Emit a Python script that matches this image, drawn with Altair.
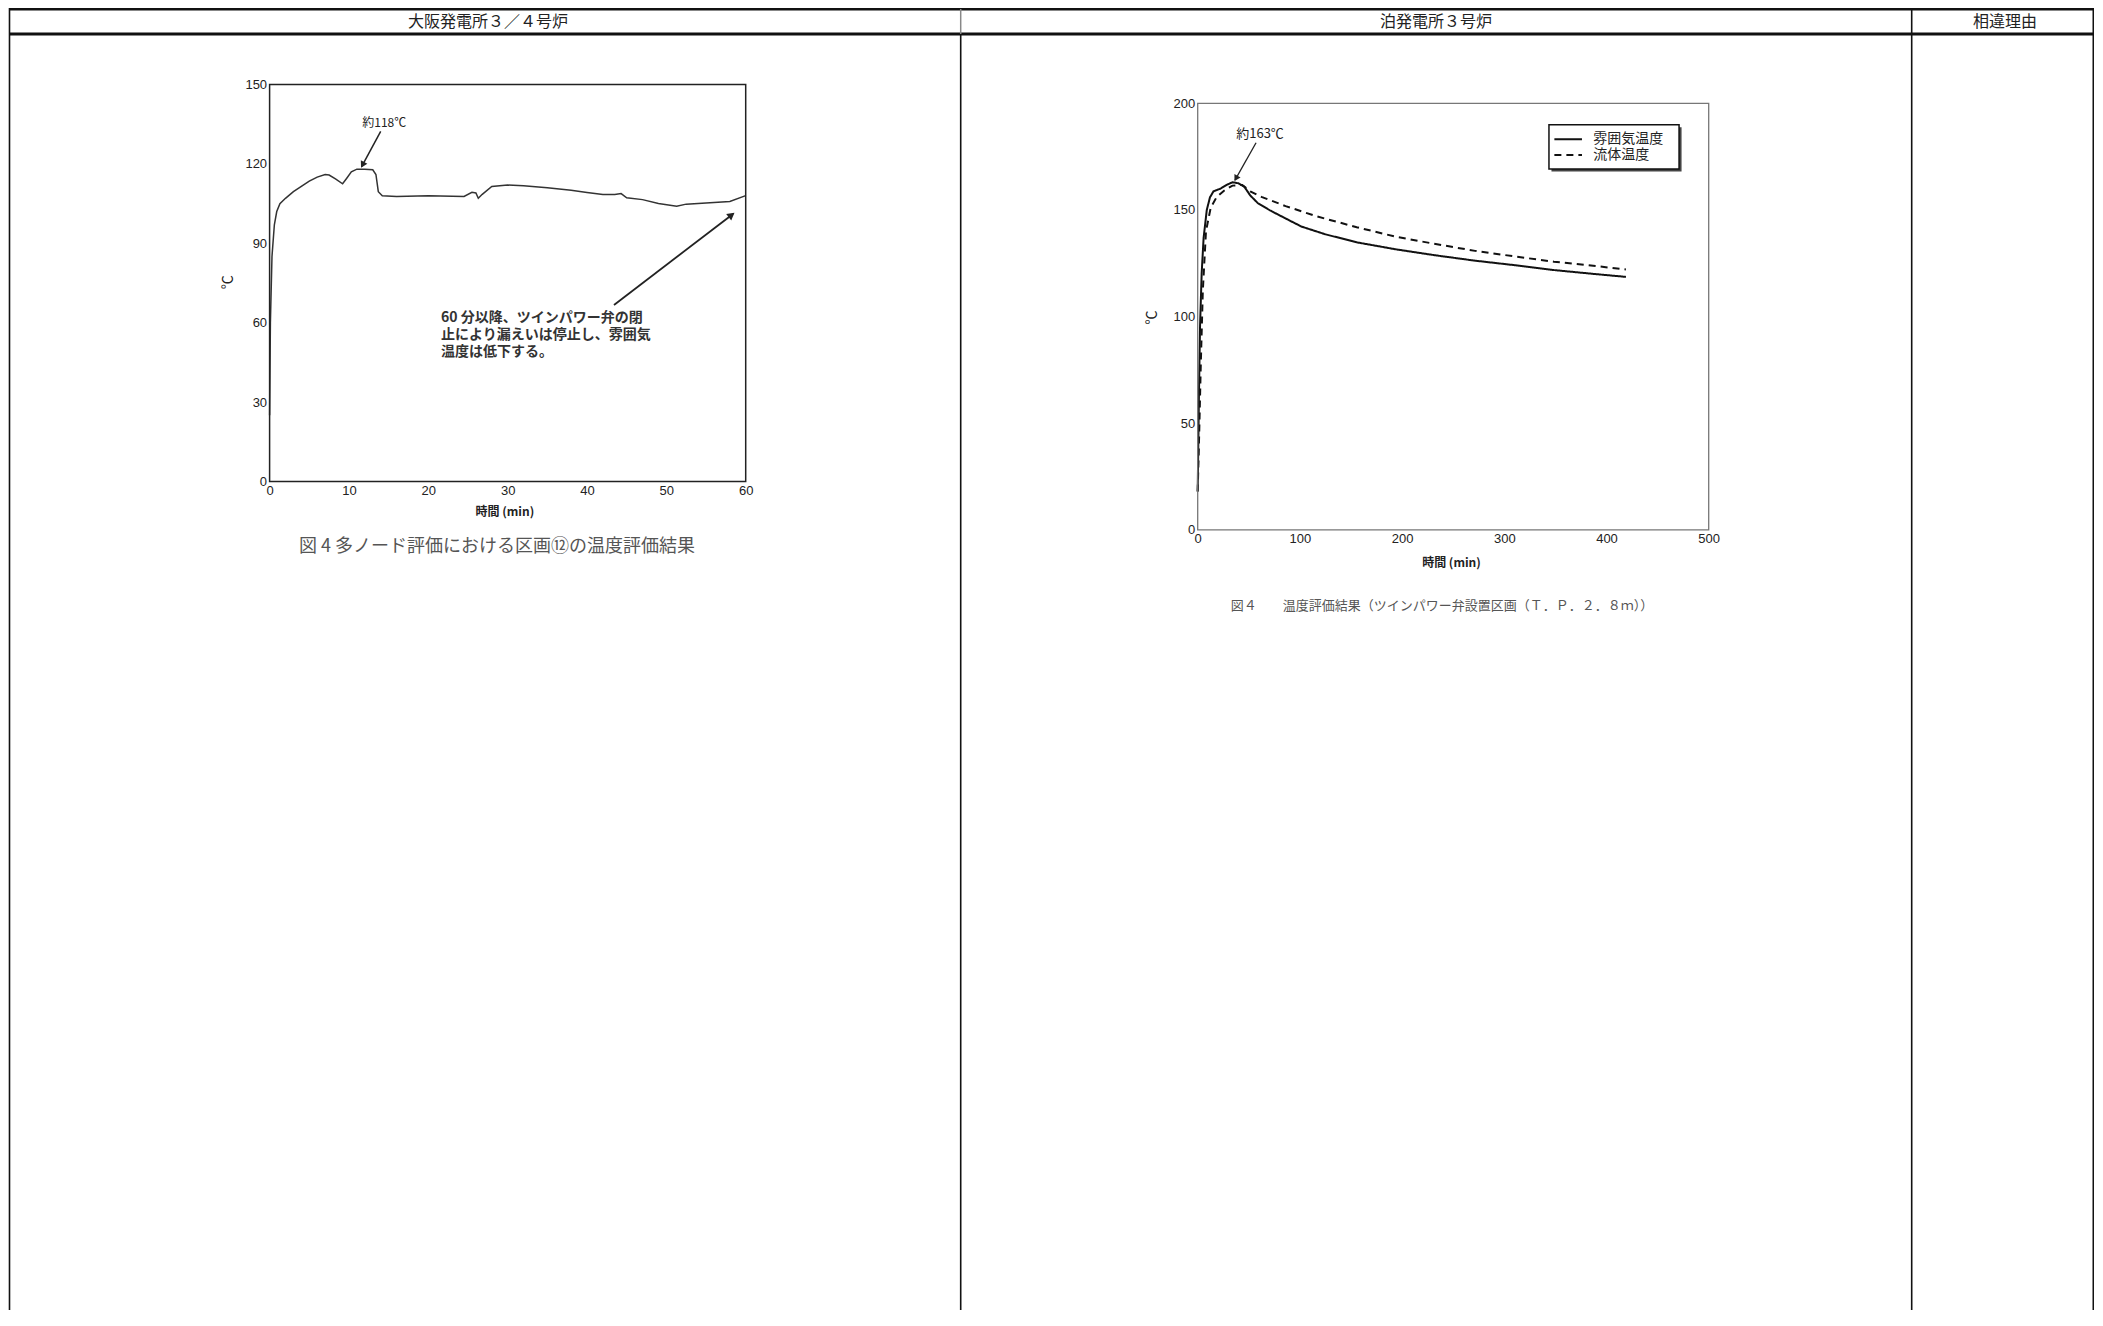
import math
import altair as alt
import pandas as pd

W, H = 2086, 1302
CJK = "Noto Sans CJK JP"
NUM = "Liberation Sans"

# ---------------- data ----------------
header_labels = ["大阪発電所３／４号炉", "泊発電所３号炉", "相違理由"]

left_t = [0, 0.1, 0.3, 0.6, 0.9, 1.3, 2.0, 3.0, 4.0, 5.0, 6.0, 7.0, 7.5, 8.3, 9.2, 9.7,
          10.3, 11.0, 12.0, 13.0, 13.4, 13.7, 14.2, 16.0, 20.0, 24.5, 25.5, 26.0, 26.3,
          26.8, 28.0, 30.0, 32.0, 35.0, 38.0, 40.0, 42.0, 43.5, 44.3, 45.0, 47.0, 49.0,
          51.3, 52.5, 55.0, 58.0, 60.0]
left_T = [25, 60, 85, 97, 102, 105, 107, 109.5, 111.5, 113.5, 115, 116, 115.8, 114.3,
          112.5, 114.5, 117, 118, 118, 117.8, 116, 109.5, 108, 107.7, 108, 107.7, 109.3,
          109, 107, 108.5, 111.5, 112, 111.7, 111, 110, 109.2, 108.4, 108.4, 108.8, 107.2,
          106.5, 105, 104, 104.8, 105.2, 105.8, 108]
left_x_ticks = [0, 10, 20, 30, 40, 50, 60]
left_y_ticks = [0, 30, 60, 90, 120, 150]
left_peak_label = "約118℃"
left_note = ["60 分以降、ツインパワー弁の閉", "止により漏えいは停止し、雰囲気", "温度は低下する。"]
left_caption = "図 4 多ノード評価における区画⑫の温度評価結果"

series_names = ["雰囲気温度", "流体温度"]
atm_t = [0, 1.2, 2.3, 3.9, 5.8, 8.9, 12, 15.4, 22.4, 28.2, 34, 39.8, 45.6, 51.4, 59, 70.7,
         86, 101.5, 124.7, 155.6, 194.2, 232.8, 271.4, 310, 348.6, 387.3, 419]
atm_T = [18, 62.7, 95.7, 120.5, 137, 150, 155.9, 158.7, 160, 161.7, 163, 162.5, 160.9,
         156.8, 153.1, 149.8, 146, 142.2, 138.6, 134.8, 131.5, 128.7, 126.2, 124.1, 121.8,
         120, 118.6]
fluid_t = [0, 1.5, 3.1, 5, 8.1, 12.7, 18.5, 26.3, 34, 43.6, 51.4, 63, 86, 117, 155.6, 194,
           232.8, 271.4, 310, 348.6, 387, 419]
fluid_T = [18, 46, 79, 112, 140, 151, 156, 159.2, 161.4, 161.7, 158.7, 156, 151.8, 146.9,
           141.9, 137.4, 134, 130.8, 128.2, 125.7, 123.8, 122.1]
right_x_ticks = [0, 100, 200, 300, 400, 500]
right_y_ticks = [0, 50, 100, 150, 200]
right_peak_label = "約163℃"
right_caption = "図４　　温度評価結果（ツインパワー弁設置区画（Ｔ．Ｐ．２．８ｍ））"
x_title = "時間 (min)"
y_title = "℃"

# annotation anchors (data units)
left_arrow1 = [(14.0, 132.3), (11.6, 119.0)]
left_arrow2 = [(43.4, 66.7), (58.4, 101.1)]
left_peak_pos = (14.45, 135.5)
left_note_pos = (21.6, [61.8, 55.5, 49.0])
right_arrow = [(57.1, 181.5), (36.5, 164.0)]
right_peak_pos = (61.0, 185.6)
legend_box = [(343.7, 471.0), (169.2, 190.0)]
legend_rows = [183.2, 175.7]
legend_line_t = (349.0, 376.0)
legend_text_t = 387.0

# ---------------- geometry (chart px) ----------------
LX_RANGE = [261.6, 737.7]
LY_RANGE = [473.5, 76.5]
RX_RANGE = [1189.7, 1700.7]
RY_RANGE = [521.8, 95.3]

LX = alt.Scale(domain=[0, 60], range=LX_RANGE, nice=False, zero=False)
LY = alt.Scale(domain=[0, 150], range=LY_RANGE, nice=False, zero=False)
RX = alt.Scale(domain=[0, 500], range=RX_RANGE, nice=False, zero=False)
RY = alt.Scale(domain=[0, 200], range=RY_RANGE, nice=False, zero=False)

one = pd.DataFrame({"k": [0]})


def xaxis(values, ypix, title_x, title_y):
    return alt.Axis(orient="bottom", offset=ypix - H, values=values, grid=False,
                    domain=False, ticks=False, tickSize=0, labelPadding=3,
                    labelFont=NUM, labelFontSize=13, labelColor="#222",
                    labelFlush=False, labelOverlap=False,
                    title=x_title, titleFont=CJK, titleFontSize=12, titleFontWeight="bold",
                    titleColor="#222", titleX=title_x, titleY=title_y,
                    titleAlign="center", titleBaseline="middle")


def yaxis(values, xpix, title_x, title_y):
    return alt.Axis(orient="left", offset=-xpix, values=values, grid=False,
                    domain=False, ticks=False, tickSize=0, labelPadding=3,
                    labelFont=NUM, labelFontSize=13, labelColor="#222",
                    labelFlush=False, labelOverlap=False,
                    title=y_title, titleFont=CJK, titleFontSize=14, titleFontWeight="normal",
                    titleColor="#222", titleX=title_x, titleY=title_y,
                    titleAlign="center", titleBaseline="middle")


layers = []

# ---------------- table ----------------
def hrule(y, x1, x2, w, c="#111"):
    return alt.Chart(one).mark_rule(color=c, strokeWidth=w).encode(
        x=alt.value(x1), x2=alt.value(x2), y=alt.value(y))


def vrule(x, y1, y2, w, c="#111"):
    return alt.Chart(one).mark_rule(color=c, strokeWidth=w).encode(
        x=alt.value(x), y=alt.value(y1), y2=alt.value(y2))


layers += [
    hrule(1.2, 1.5, W, 2.4),
    hrule(26, 1.5, W, 3),
    vrule(1.5, 0, H, 1.6),
    vrule(952.7, 1, 26, 1.5, "#888"),
    vrule(952.7, 26, H, 1.6),
    vrule(1903.7, 1, H, 1.6),
    vrule(2085.3, 0, H, 1.6),
]
for lab, xc in zip(header_labels, [480, 1428, 1997]):
    layers.append(alt.Chart(one).mark_text(font=CJK, fontSize=16, color="#222",
                                           align="center", baseline="middle").encode(
        x=alt.value(xc), y=alt.value(14), text=alt.value(lab)))

# ---------------- left plot ----------------
ldf = pd.DataFrame({"t": left_t, "T": left_T})
layers.append(alt.Chart(ldf).mark_line(color="#333", strokeWidth=1.5).encode(
    x=alt.X("t:Q", scale=LX, axis=xaxis(left_x_ticks, LY_RANGE[0], 496.4, 29.5)),
    y=alt.Y("T:Q", scale=LY, axis=yaxis(left_y_ticks, LX_RANGE[0], -42.6, 273.7)),
    order="t:Q"))

lframe = pd.DataFrame({"x0": [0], "x1": [60], "y0": [0], "y1": [150]})
layers.append(alt.Chart(lframe).mark_rect(fill="white", fillOpacity=0, stroke="#222",
                                          strokeWidth=1.5).encode(
    x=alt.X("x0:Q", scale=LX, axis=None), x2="x1:Q",
    y=alt.Y("y0:Q", scale=LY, axis=None), y2="y1:Q"))


def arrow(pts, xs, ys, xr, yr, xd, yd, width=1.5, head=55):
    (t0, v0), (t1, v1) = pts
    df = pd.DataFrame({"t": [t0, t1], "T": [v0, v1], "o": [0, 1]})
    pxu = (xr[1] - xr[0]) / (xd[1] - xd[0])
    pyu = (yr[0] - yr[1]) / (yd[1] - yd[0])
    dx = (t1 - t0) * pxu
    dy = -(v1 - v0) * pyu
    ang = math.degrees(math.atan2(dx, -dy)) % 360
    L = math.hypot(dx, dy)
    back = 3.0 / L
    hd = pd.DataFrame({"t": [t1 - (t1 - t0) * back], "T": [v1 - (v1 - v0) * back], "a": [ang]})
    ln = alt.Chart(df).mark_line(color="#222", strokeWidth=width).encode(
        x=alt.X("t:Q", scale=xs, axis=None), y=alt.Y("T:Q", scale=ys, axis=None), order="o:Q")
    hp = alt.Chart(hd).mark_point(shape="triangle", filled=True, color="#222",
                                  opacity=1, size=head).encode(
        x=alt.X("t:Q", scale=xs, axis=None), y=alt.Y("T:Q", scale=ys, axis=None),
        angle=alt.Angle("a:Q", scale=None))
    return [ln, hp]


layers += arrow(left_arrow1, LX, LY, LX_RANGE, LY_RANGE, [0, 60], [0, 150])
layers += arrow(left_arrow2, LX, LY, LX_RANGE, LY_RANGE, [0, 60], [0, 150], width=1.8, head=70)

lpk = pd.DataFrame({"t": [left_peak_pos[0]], "T": [left_peak_pos[1]], "s": [left_peak_label]})
layers.append(alt.Chart(lpk).mark_text(font=CJK, fontSize=12, color="#222").encode(
    x=alt.X("t:Q", scale=LX, axis=None), y=alt.Y("T:Q", scale=LY, axis=None), text="s:N"))

lnote = pd.DataFrame({"t": [left_note_pos[0]] * 3, "T": left_note_pos[1], "s": left_note})
layers.append(alt.Chart(lnote).mark_text(font=CJK, fontSize=14, fontWeight="bold",
                                         color="#333", align="left", baseline="middle").encode(
    x=alt.X("t:Q", scale=LX, axis=None), y=alt.Y("T:Q", scale=LY, axis=None), text="s:N"))

layers.append(alt.Chart(one).mark_text(font=CJK, fontSize=18, color="#555",
                                       align="center", baseline="middle").encode(
    x=alt.value(489), y=alt.value(538.5), text=alt.value(left_caption)))

# ---------------- right plot ----------------
rdf = pd.concat([
    pd.DataFrame({"t": atm_t, "T": atm_T, "s": series_names[0]}),
    pd.DataFrame({"t": fluid_t, "T": fluid_T, "s": series_names[1]}),
])
layers.append(alt.Chart(rdf).mark_line(color="#111", strokeWidth=2).encode(
    x=alt.X("t:Q", scale=RX, axis=xaxis(right_x_ticks, RY_RANGE[0], 1443, 32.2)),
    y=alt.Y("T:Q", scale=RY, axis=yaxis(right_y_ticks, RX_RANGE[0], -46.7, 309)),
    strokeDash=alt.StrokeDash("s:N", scale=alt.Scale(domain=series_names,
                                                      range=[[1, 0], [7, 5]]), legend=None),
    detail="s:N", order="t:Q"))

rframe = pd.DataFrame({"x0": [0], "x1": [500], "y0": [0], "y1": [200]})
layers.append(alt.Chart(rframe).mark_rect(fill="white", fillOpacity=0, stroke="#777",
                                          strokeWidth=1.3).encode(
    x=alt.X("x0:Q", scale=RX, axis=None), x2="x1:Q",
    y=alt.Y("y0:Q", scale=RY, axis=None), y2="y1:Q"))

layers += arrow(right_arrow, RX, RY, RX_RANGE, RY_RANGE, [0, 500], [0, 200], width=1.3, head=50)

rpk = pd.DataFrame({"t": [right_peak_pos[0]], "T": [right_peak_pos[1]], "s": [right_peak_label]})
layers.append(alt.Chart(rpk).mark_text(font=CJK, fontSize=13, color="#222").encode(
    x=alt.X("t:Q", scale=RX, axis=None), y=alt.Y("T:Q", scale=RY, axis=None), text="s:N"))

# legend box with shadow
(bx0, bx1), (by0, by1) = legend_box
px_r = (RX_RANGE[1] - RX_RANGE[0]) / 500
py_r = (RY_RANGE[0] - RY_RANGE[1]) / 200
sh = pd.DataFrame({"x0": [bx0 + 2.5 / px_r], "x1": [bx1 + 2.5 / px_r],
                   "y0": [by0 - 2.5 / py_r], "y1": [by1 - 2.5 / py_r]})
layers.append(alt.Chart(sh).mark_rect(color="#444").encode(
    x=alt.X("x0:Q", scale=RX, axis=None), x2="x1:Q",
    y=alt.Y("y0:Q", scale=RY, axis=None), y2="y1:Q"))
bx = pd.DataFrame({"x0": [bx0], "x1": [bx1], "y0": [by0], "y1": [by1]})
layers.append(alt.Chart(bx).mark_rect(fill="white", stroke="#111", strokeWidth=1.5).encode(
    x=alt.X("x0:Q", scale=RX, axis=None), x2="x1:Q",
    y=alt.Y("y0:Q", scale=RY, axis=None), y2="y1:Q"))
lg = pd.DataFrame({"t": [legend_line_t[0], legend_line_t[1]] * 2,
                   "T": [legend_rows[0]] * 2 + [legend_rows[1]] * 2,
                   "s": [series_names[0]] * 2 + [series_names[1]] * 2})
layers.append(alt.Chart(lg).mark_line(color="#111", strokeWidth=2).encode(
    x=alt.X("t:Q", scale=RX, axis=None), y=alt.Y("T:Q", scale=RY, axis=None),
    strokeDash=alt.StrokeDash("s:N", scale=alt.Scale(domain=series_names,
                                                      range=[[1, 0], [7, 5]]), legend=None),
    detail="s:N"))
lgt = pd.DataFrame({"t": [legend_text_t] * 2, "T": legend_rows, "s": series_names})
layers.append(alt.Chart(lgt).mark_text(font=CJK, fontSize=14, color="#222",
                                       align="left", baseline="middle").encode(
    x=alt.X("t:Q", scale=RX, axis=None), y=alt.Y("T:Q", scale=RY, axis=None), text="s:N"))

layers.append(alt.Chart(one).mark_text(font=CJK, fontSize=13, color="#555",
                                       align="center", baseline="middle").encode(
    x=alt.value(1434), y=alt.value(598), text=alt.value(right_caption)))

chart = alt.layer(*layers).resolve_scale(x="independent", y="independent").properties(
    width=W, height=H, autosize=alt.AutoSizeParams(type="none"), padding=0,
    background="white",
).configure_view(strokeWidth=0)

chart.save("out.html", embed_options={"renderer": "svg", "actions": False})
